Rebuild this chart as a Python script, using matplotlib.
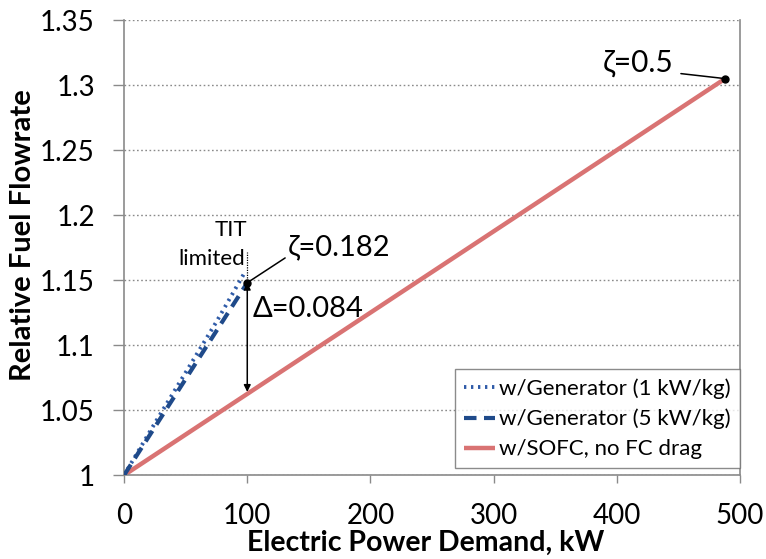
import matplotlib
matplotlib.use("Agg")
import matplotlib.pyplot as plt

plt.rcParams['font.family'] = ['Lato', 'DejaVu Sans']

# Series data
gen1_power = [0, 25, 50, 75, 98]
gen1_fuel = [1.0, 1.040, 1.079, 1.118, 1.156]
gen5_power = [0, 25, 50, 75, 100]
gen5_fuel = [1.0, 1.037, 1.074, 1.111, 1.148]
sofc_power = [0, 488]
sofc_fuel = [1.0, 1.305]

xticks = [0, 100, 200, 300, 400, 500]
yticks = [1.0, 1.05, 1.1, 1.15, 1.2, 1.25, 1.3, 1.35]
ytick_labels = ['1', '1.05', '1.1', '1.15', '1.2', '1.25', '1.3', '1.35']

zeta_small = (100, 1.148)
zeta_large = (488, 1.305)
delta_low = 1.064

fig = plt.figure(figsize=(7.66, 5.59), dpi=100)
ax = fig.add_axes([0.162, 0.150, 0.804, 0.814])

for y in yticks:
    ax.axhline(y, color='#8a8a8a', lw=1.0, ls=(0, (1.2, 1.8)), zorder=0)

ax.plot(sofc_power, sofc_fuel, color='#d97373', lw=3.2, solid_capstyle='butt',
        label='w/SOFC, no FC drag', zorder=2)
ax.plot(gen1_power, gen1_fuel, color='#2f5ba8', lw=2.8, ls=(0, (0.6, 1.2)),
        label='w/Generator (1 kW/kg)', zorder=3)
ax.plot(gen5_power, gen5_fuel, color='#1f4a8a', lw=3.0, ls=(0, (3, 1.8)),
        label='w/Generator (5 kW/kg)', zorder=3)

# TIT limit marker
ax.plot([100, 100], [1.148, 1.1715], color='black', lw=0.9, ls=(0, (1, 1)), zorder=4)
ax.text(100, 1.1885, 'TIT', ha='right', va='center', fontsize=16)
ax.text(98.5, 1.1665, 'limited', ha='right', va='center', fontsize=16)

# zeta annotations
ax.plot(*zeta_small, 'o', color='black', ms=5, zorder=5)
ax.annotate('ζ=0.182', xy=zeta_small, xytext=(133, 1.1755), fontsize=21,
            ha='left', va='center',
            arrowprops=dict(arrowstyle='-', color='black', lw=1.1,
                            shrinkA=0, shrinkB=2, relpos=(0.02, 0.2)))
ax.plot(*zeta_large, 'o', color='black', ms=5, zorder=5)
ax.annotate('ζ=0.5', xy=zeta_large, xytext=(389, 1.317), fontsize=21.5,
            ha='left', va='center',
            arrowprops=dict(arrowstyle='-', color='black', lw=1.1,
                            shrinkA=3, shrinkB=2, relpos=(1.0, 0.15)))

# Delta arrow
ax.annotate('', xy=(100, delta_low), xytext=(100, zeta_small[1]),
            arrowprops=dict(arrowstyle='<|-|>', color='black', lw=1.1,
                            mutation_scale=10, shrinkA=0, shrinkB=0))
ax.text(104, 1.128, 'Δ=0.084', fontsize=21, ha='left', va='center')

ax.set_xlim(0, 500)
ax.set_ylim(1.0, 1.35)
ax.set_xticks(xticks)
ax.set_yticks(yticks)
ax.set_yticklabels(ytick_labels)
ax.tick_params(axis='both', labelsize=20, color='#8a8a8a', width=1, direction='out')
ax.tick_params(axis='x', length=6, pad=14)
ax.tick_params(axis='y', length=8, pad=13)

for side in ['left', 'bottom', 'right']:
    ax.spines[side].set_color('#8a8a8a')
    ax.spines[side].set_linewidth(1.2)
ax.spines['top'].set_visible(False)

ax.set_xlabel('Electric Power Demand, kW', fontsize=20.5, fontweight='bold')
ax.xaxis.set_label_coords(0.49, -0.121)
ax.set_ylabel('Relative Fuel Flowrate', fontsize=21, fontweight='bold')
ax.yaxis.set_label_coords(-0.143, 0.527)

handles, labels = ax.get_legend_handles_labels()
order = [1, 2, 0]
leg = ax.legend([handles[i] for i in order], [labels[i] for i in order],
                loc='lower right', bbox_to_anchor=(1.0, 0.015), borderaxespad=0,
                fontsize=16, frameon=True, fancybox=False, edgecolor='#6e6e6e',
                handlelength=1.4, handletextpad=0.2, borderpad=0.4,
                labelspacing=0.45)
leg.get_frame().set_linewidth(1.0)

fig.savefig('out.png', dpi=100)
